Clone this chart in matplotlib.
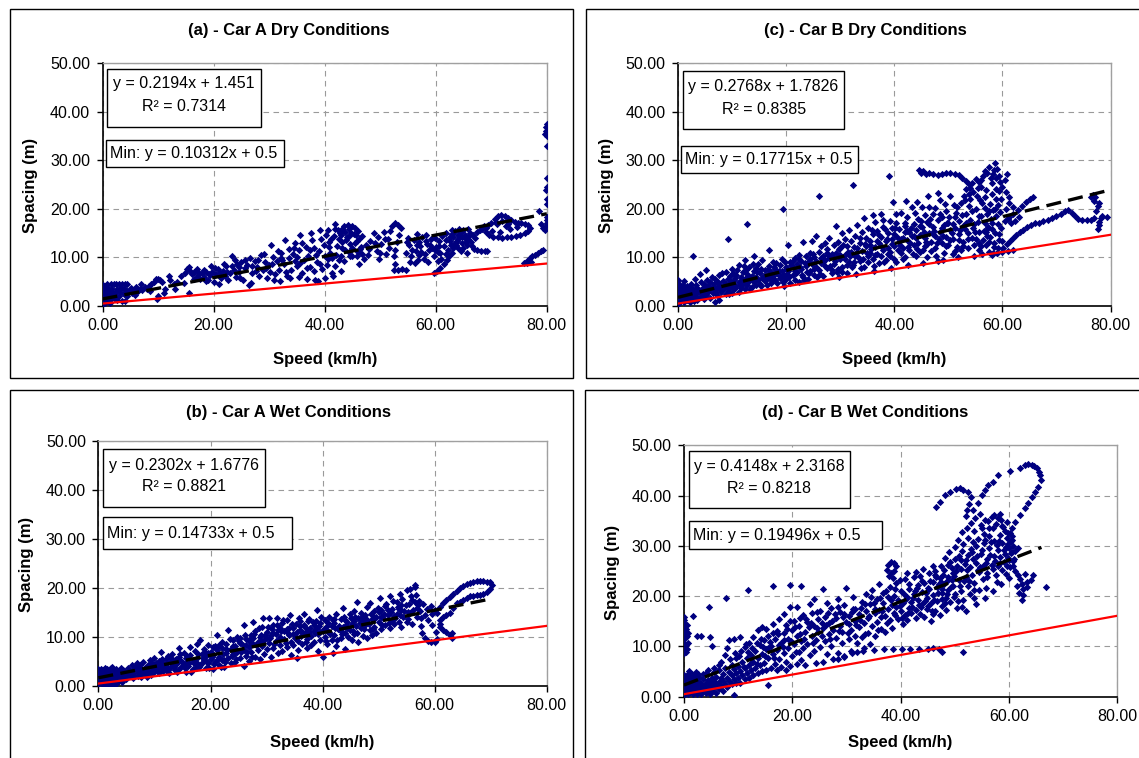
import matplotlib
matplotlib.use("Agg")
import matplotlib.pyplot as plt
from matplotlib.patches import Rectangle
from matplotlib.ticker import FormatStrFormatter

plt.rcParams['font.family'] = ['Liberation Sans', 'DejaVu Sans']

W, H = 1139, 758

# (speed km/h, spacing m) points per test
a_points = [
    (0, 0.4), (0, 0.9), (0, 1.4), (0, 1.9), (0, 2.4), (0, 2.9), (0, 3.4), (0, 3.9), (0, 4.4),
    (0.4, 0.7), (0.4, 1.6), (0.4, 2.5), (0.4, 3.3), (0.4, 4.1), (0.8, 1.1), (0.8, 2.0), (0.8, 2.8),
    (0.8, 3.6), (0.8, 4.6), (1.2, 0.9), (1.2, 1.8), (1.2, 2.6), (1.2, 3.3), (1.6, 1.4), (1.6, 2.3),
    (1.6, 3.0), (1.6, 4.6), (2.0, 4.6), (2.5, 4.6), (3.0, 4.6), (3.5, 4.6), (4.0, 4.6), (4.5, 4.5),
    (2.0, 1.6), (2.3, 2.6), (2.6, 3.4), (2.9, 2.0), (3.2, 2.9), (3.5, 1.1), (3.8, 2.4), (4.0, 1.0),
    (4.2, 3.3), (4.5, 2.1), (4.8, 3.0), (5.1, 3.8), (5.4, 2.6), (5.7, 3.3), (6.0, 3.9), (6.4, 3.0),
    (6.8, 3.6), (7.2, 3.3), (7.6, 3.9), (8.0, 3.5), (8.3, 4.1), (8.8, 4.5), (9.2, 5.0), (9.6, 5.5),
    (10.0, 5.6), (10.4, 5.3), (10.7, 5.0), (9.8, 1.5), (10.0, 2.1), (11.0, 2.6), (11.2, 3.5),
    (12.2, 5.4), (12.8, 4.6), (13.5, 5.0), (14.2, 6.1), (14.9, 6.8), (15.2, 7.6), (15.5, 8.0),
    (15.8, 7.3), (16.2, 6.6), (16.5, 7.0), (15.5, 2.6), (16.8, 5.8), (17.2, 6.4), (17.6, 5.5),
    (18.0, 6.8), (18.3, 6.0), (18.7, 7.1), (19.0, 5.4), (19.4, 6.3), (19.8, 7.0), (20.1, 5.0),
    (20.4, 6.5), (20.8, 7.6), (21.0, 4.6), (21.3, 5.8), (21.7, 7.2), (22.0, 6.1), (22.3, 8.3),
    (22.6, 5.4), (23.0, 6.8), (23.3, 10.2), (23.6, 7.5), (24.0, 6.0), (24.3, 8.6), (24.6, 7.0),
    (25.0, 9.0), (25.3, 5.3), (25.6, 7.8), (26.0, 8.4), (26.3, 4.3), (26.8, 4.7), (27.0, 6.9),
    (27.4, 9.3), (27.8, 8.0), (28.2, 6.2), (28.5, 10.5), (28.9, 7.4), (29.3, 9.0), (29.7, 5.8),
    (30.0, 8.4), (30.4, 12.6), (30.7, 10.0), (31.0, 6.5), (31.4, 9.2), (31.8, 7.4), (32.2, 11.0),
    (32.6, 8.6), (32.9, 13.6), (33.3, 6.2), (33.6, 9.8), (34.0, 7.5), (34.3, 10.8), (34.7, 13.0),
    (35.0, 8.3), (35.3, 11.6), (35.6, 14.6), (36.0, 6.8), (36.3, 9.5), (36.6, 12.2), (37.0, 10.4),
    (37.3, 8.1), (37.6, 15.1), (38.0, 12.0), (38.3, 5.3), (38.6, 9.0), (39.0, 11.4), (39.2, 15.6),
    (39.5, 7.6), (39.8, 12.6), (40.1, 10.2), (40.4, 8.4), (40.7, 13.2), (41.0, 11.0), (41.3, 6.8),
    (41.6, 14.5), (41.9, 16.8), (42.2, 12.4), (42.5, 9.5), (42.8, 15.0), (43.1, 13.2), (43.4, 16.4),
    (43.7, 11.6), (44.0, 14.2), (44.3, 15.8), (44.6, 12.8), (44.9, 10.4), (45.2, 14.8), (45.5, 16.0),
    (45.8, 13.4), (46.1, 8.6), (46.4, 11.8), (46.7, 14.4), (47.0, 9.6), (47.4, 12.6), (47.8, 10.6),
    (48.2, 13.4), (48.8, 15.0), (49.4, 11.4), (49.8, 9.6), (50.2, 12.8), (50.6, 15.2), (51.0, 10.8),
    (51.4, 13.8), (51.8, 15.4), (52.2, 16.4), (52.7, 17.0), (53.2, 16.6), (53.7, 16.0), (53.4, 14.6),
    (53.0, 13.2), (52.6, 11.6), (52.4, 10.2), (52.6, 8.6), (52.5, 7.5), (53.2, 7.4), (54.0, 7.6),
    (54.6, 7.5), (54.6, 11.0), (55.2, 12.6), (55.6, 10.2), (56.0, 13.6), (56.4, 11.4), (56.8, 9.4),
    (57.2, 12.4), (57.6, 14.2), (58.0, 10.8), (58.4, 12.8), (58.8, 11.6), (59.2, 13.8), (59.6, 10.4),
    (60.0, 12.2), (60.4, 9.2), (60.8, 11.0), (61.2, 14.4), (61.5, 12.4), (59.6, 6.9), (60.2, 7.3),
    (60.8, 7.8), (61.4, 8.6), (62.0, 9.4), (62.4, 10.4), (62.8, 12.6), (63.2, 14.2), (63.5, 15.4),
    (63.8, 13.4), (64.1, 12.0), (64.4, 14.6), (64.7, 13.0), (65.0, 15.6), (65.3, 14.0), (65.6, 12.6),
    (65.9, 13.8), (66.2, 15.0), (66.5, 12.4), (66.9, 11.8), (67.5, 11.6), (68.1, 11.4), (68.8, 11.3),
    (69.3, 11.4), (66.8, 14.6), (67.4, 15.2), (68.0, 15.6), (68.7, 16.4), (69.4, 16.6), (70.0, 17.2),
    (70.6, 18.0), (71.2, 18.6), (71.8, 18.7), (72.4, 18.5), (73.0, 18.2), (73.6, 17.8), (74.2, 17.4),
    (74.8, 17.2), (75.4, 17.0), (76.0, 16.9), (76.6, 16.6), (76.9, 16.0), (76.6, 15.4), (76.0, 15.0),
    (75.2, 14.6), (74.4, 14.4), (73.6, 14.3), (72.8, 14.2), (72.0, 14.1), (71.2, 14.2), (70.4, 14.3),
    (69.6, 14.6), (69.0, 15.2), (68.4, 15.9), (75.9, 8.9), (76.4, 9.3), (76.9, 9.8), (77.4, 10.2),
    (77.9, 10.6), (78.4, 11.0), (78.9, 11.4), (79.4, 11.6), (76.5, 8.9), (77.2, 9.1), (78.6, 19.6),
    (79.0, 16.8), (79.3, 16.0), (79.6, 15.6), (79.8, 16.4), (80.0, 17.2), (80.0, 18.4), (80.0, 21.0),
    (80.0, 22.0), (79.9, 24.0), (80.0, 24.6), (80.0, 26.4), (80.0, 33.0), (80.0, 35.0), (79.8, 36.0),
    (79.9, 36.8), (80.0, 37.5), (79.7, 35.5), (80.0, 17.8), (42.4, 15.6), (43.0, 14.6), (43.6, 15.2),
    (44.2, 16.6), (44.8, 15.0), (45.4, 13.0), (46.0, 15.4), (46.6, 12.2), (43.2, 12.0), (44.4, 11.2),
    (45.0, 12.0), (42.0, 10.6), (43.5, 9.2), (45.8, 10.2), (46.8, 10.8), (48.0, 11.8), (49.0, 13.0),
    (50.0, 11.0), (62.5, 13.4), (63.0, 15.6), (63.6, 12.6), (64.2, 15.8), (64.8, 14.2), (65.4, 13.2),
    (66.0, 14.4), (62.2, 11.6), (63.0, 11.0), (64.5, 11.4), (65.6, 11.0), (55.0, 14.0), (56.6, 14.8),
    (57.8, 9.6), (58.6, 9.0), (59.4, 12.0), (60.6, 13.4), (61.8, 15.0), (55.4, 9.0), (56.2, 8.8),
    (30.8, 5.4), (32.0, 5.2), (33.8, 5.8), (35.4, 6.0), (36.8, 5.6), (38.8, 5.2), (40.0, 5.8),
    (41.5, 6.2), (43.0, 7.2),
]
a_dense = [
    (0.2, 1.2), (0.6, 2.6), (1.0, 3.8), (1.4, 0.6), (1.8, 3.4), (2.2, 2.2), (2.7, 1.2), (3.3, 3.8),
    (3.9, 3.4), (5.8, 2.2), (7.0, 4.6), (8.6, 3.0), (12.0, 6.2), (13.0, 3.6), (14.6, 4.8),
    (17.0, 7.6), (18.6, 5.2), (19.6, 8.2), (21.8, 8.6), (23.8, 9.4), (24.8, 5.8), (26.6, 9.8),
    (27.6, 7.2), (29.0, 10.8), (30.2, 7.0), (31.6, 11.4), (32.4, 9.4), (33.0, 7.0), (34.4, 12.0),
    (35.0, 10.0), (36.0, 13.0), (37.4, 11.6), (37.8, 13.6), (38.4, 10.6), (39.4, 13.8), (40.2, 14.6),
    (40.8, 12.2), (41.4, 9.8), (49.6, 14.2), (50.8, 13.8), (51.6, 12.0), (54.8, 13.2), (57.0, 10.6),
    (58.2, 14.6), (59.8, 14.0), (60.4, 11.2), (61.0, 9.6), (61.8, 10.8), (62.6, 14.2), (64.0, 13.8),
    (65.0, 12.0), (66.4, 13.2), (67.0, 14.0), (69.0, 16.0), (70.2, 15.4), (71.0, 16.8), (71.6, 15.2),
    (72.6, 16.4), (73.4, 15.8), (74.6, 16.2), (70.8, 17.4), (72.0, 17.6), (73.0, 16.9),
    (40.6, 15.6), (41.2, 13.8), (41.8, 15.8), (42.6, 13.8), (43.2, 15.8), (43.8, 13.6), (44.4, 14.4),
    (45.0, 16.4), (45.6, 14.6), (46.2, 13.8), (46.0, 11.2), (44.6, 10.2), (43.0, 10.4), (41.8, 8.2),
    (40.6, 9.6), (39.2, 8.6), (38.0, 7.2), (36.8, 7.8), (35.6, 8.8), (34.6, 9.2), (33.6, 11.8),
    (32.2, 9.8), (30.6, 8.6), (29.4, 7.8), (28.0, 9.4), (27.0, 8.2), (25.6, 9.4), (24.6, 8.0),
    (23.4, 8.2), (22.4, 7.0), (21.2, 6.8), (20.2, 7.8), (19.2, 6.6), (18.2, 7.4), (17.4, 6.8),
    (16.4, 5.6), (64.6, 15.2), (63.4, 13.0), (62.9, 14.8), (64.0, 14.6), (65.2, 14.6), (65.8, 15.8),
    (63.2, 12.0), (61.9, 13.6), (60.6, 12.4), (59.9, 11.6), (59.0, 12.6), (58.2, 13.4), (57.4, 11.2),
    (56.6, 12.6), (55.8, 11.6), (57.0, 13.2),
]

b_points = [
    (0, 0.4), (0, 1.0), (0, 1.6), (0, 2.2), (0, 2.8), (0, 3.4), (0.4, 0.7), (0.4, 1.4), (0.4, 2.0),
    (0.4, 2.7), (0.4, 3.4), (0.8, 0.4), (0.8, 1.1), (0.8, 1.8), (0.8, 2.5), (0.8, 3.2), (1.2, 0.9),
    (1.2, 1.6), (1.2, 2.3), (1.2, 3.0), (1.2, 3.7), (1.6, 0.3), (1.6, 1.3), (1.6, 2.0), (1.6, 2.8),
    (1.6, 3.5), (2.0, 0.8), (2.0, 1.7), (2.0, 2.5), (2.0, 3.3), (2.4, 0.2), (2.4, 1.2), (2.4, 2.1),
    (2.4, 3.0), (2.4, 3.8), (2.8, 0.9), (2.8, 1.8), (2.8, 2.7), (3.2, 0.5), (3.2, 1.5), (3.2, 2.4),
    (3.2, 3.4), (3.6, 1.1), (3.6, 2.0), (3.6, 2.9), (4.0, 1.6), (4.0, 2.6), (4.0, 3.6), (4.4, 2.2),
    (4.4, 3.2), (4.8, 1.8), (4.8, 2.8), (5.2, 2.4), (5.2, 3.6), (5.6, 2.0), (5.6, 3.0), (6.0, 2.6),
    (6.0, 4.2), (6.4, 2.2), (6.4, 3.4), (6.8, 3.0), (6.8, 4.6), (7.2, 2.6), (7.2, 3.8), (7.6, 1.9),
    (7.6, 3.2), (8.0, 2.8), (8.0, 5.0), (8.4, 3.6), (8.4, 2.4), (8.8, 4.2), (8.8, 3.0), (9.2, 2.6),
    (9.2, 5.4), (9.6, 3.6), (9.6, 4.6), (10.0, 2.8), (10.0, 5.8), (10.4, 3.4), (10.4, 4.4),
    (10.8, 2.6), (10.8, 5.2), (11.2, 3.8), (11.2, 7.0), (11.6, 4.6), (11.6, 3.0), (12.0, 5.6),
    (12.0, 4.0), (12.4, 2.8), (12.4, 6.2), (12.8, 3.6), (12.8, 5.0), (13.2, 4.4), (13.2, 6.6),
    (13.6, 3.2), (13.6, 5.4), (14.0, 4.8), (14.0, 2.8), (14.3, 7.7), (14.4, 6.0), (14.8, 3.8),
    (14.8, 5.2), (15.2, 4.4), (15.2, 6.8), (15.6, 2.8), (15.6, 5.8), (16.0, 4.0), (16.3, 8.0),
    (16.4, 6.4), (16.8, 3.4), (16.8, 5.0), (17.2, 7.2), (17.2, 4.4), (17.6, 8.6), (17.6, 5.8),
    (18.0, 3.8), (18.1, 9.4), (18.4, 6.6), (18.4, 4.8), (18.8, 7.6), (18.8, 5.4), (19.2, 3.6),
    (19.2, 6.2), (19.6, 8.4), (19.6, 4.6), (20.0, 7.0), (20.0, 5.6), (20.4, 3.4), (20.4, 6.4),
    (20.8, 8.2), (20.8, 5.0), (21.1, 10.4), (21.2, 7.4), (21.6, 4.2), (21.6, 6.0), (22.0, 9.0),
    (22.0, 7.8), (22.4, 5.4), (22.4, 3.8), (22.8, 6.8), (22.8, 8.6), (23.2, 11.4), (23.2, 5.8),
    (23.6, 7.6), (23.6, 4.6), (24.0, 9.4), (24.0, 6.6), (24.4, 5.0), (24.4, 8.2), (24.8, 7.0),
    (24.8, 10.0), (25.2, 5.8), (25.2, 8.8), (25.9, 12.5), (25.9, 4.0), (26.0, 7.4), (26.4, 9.6),
    (26.4, 6.2), (26.8, 8.0), (26.8, 5.2), (27.2, 10.4), (27.2, 7.0), (27.6, 13.1), (27.6, 8.6),
    (28.0, 6.0), (28.0, 11.2), (28.4, 9.0), (28.4, 7.4), (28.8, 10.0), (28.8, 5.6), (29.2, 8.2),
    (29.2, 12.0), (29.4, 13.8), (29.6, 6.6), (29.6, 9.4), (30.0, 11.0), (30.0, 7.6), (30.4, 13.8),
    (30.4, 8.8), (30.8, 6.0), (30.8, 10.4), (31.2, 12.4), (31.2, 7.8), (31.6, 9.2), (31.8, 13.8),
    (32.0, 11.4), (32.0, 6.8), (32.4, 8.4), (32.4, 10.0), (32.8, 12.8), (32.8, 7.2), (33.2, 9.6),
    (33.2, 11.2), (33.6, 8.0), (33.6, 13.4), (34.0, 10.4), (34.2, 14.5), (34.4, 9.0), (34.4, 6.4),
    (34.8, 11.8), (34.8, 8.4), (35.2, 10.0), (35.2, 12.6), (35.4, 5.7), (35.6, 9.2), (35.6, 7.4),
    (36.0, 11.4), (36.0, 13.2), (36.4, 8.6), (36.6, 14.8), (36.8, 10.8), (36.8, 12.0), (37.2, 9.6),
    (37.2, 7.8), (37.6, 11.0), (37.6, 13.6), (38.0, 10.2), (38.0, 8.4), (38.4, 12.4), (38.4, 9.0),
    (38.8, 11.6), (39.0, 15.5), (39.2, 10.6), (39.2, 7.2), (39.6, 12.8), (39.6, 9.4), (40.0, 11.2),
    (40.1, 6.0), (40.4, 13.4), (40.4, 10.0), (40.8, 8.6), (40.8, 12.2), (41.2, 11.0), (41.2, 14.2),
    (41.6, 9.4), (41.9, 6.7), (42.0, 12.8), (42.0, 10.4), (42.4, 14.8), (42.4, 8.2), (42.8, 11.6),
    (43.2, 13.6), (43.2, 9.8), (43.6, 12.0), (43.6, 16.0), (44.0, 10.8), (44.0, 7.6), (44.4, 13.0),
    (44.8, 11.4), (44.8, 14.8), (45.2, 9.4), (45.2, 12.6), (45.6, 15.4), (45.6, 10.6), (46.0, 12.2),
    (46.1, 17.2), (46.4, 13.8), (46.4, 9.0), (46.8, 11.8), (46.8, 15.0), (47.2, 13.2), (47.2, 10.2),
    (47.6, 14.6), (47.6, 12.4), (48.0, 9.8), (48.0, 16.2), (48.4, 11.4), (48.5, 16.9), (48.8, 13.6),
    (48.8, 10.4), (49.2, 15.4), (49.2, 12.0), (49.6, 14.2), (49.6, 10.8), (50.0, 13.0), (50.2, 17.9),
    (50.4, 11.6), (50.4, 15.6), (50.8, 13.8), (51.2, 12.4), (51.2, 16.4), (51.6, 14.6), (52.0, 18.4),
    (52.0, 11.8), (52.4, 13.4), (52.4, 15.8), (52.8, 12.6), (53.2, 14.8), (53.2, 17.2), (53.6, 13.0),
    (53.8, 18.9), (54.0, 15.6), (54.0, 12.0), (54.4, 14.0), (54.8, 16.6), (55.0, 19.6), (55.2, 13.6),
    (55.6, 15.0), (55.6, 19.8), (56.0, 17.6), (56.0, 12.6), (56.4, 20.2), (56.5, 20.6), (56.8, 16.0),
    (56.8, 14.2), (57.2, 17.4), (57.4, 15.4), (57.6, 13.8), (57.6, 12.2), (57.8, 10.8), (58.2, 9.8),
    (58.8, 9.2), (59.4, 8.9), (60.0, 9.0), (60.4, 9.6), (60.2, 11.0), (59.6, 12.4), (58.8, 13.4),
    (58.2, 14.6), (58.6, 15.8), (59.4, 16.4), (57.0, 16.6), (58.0, 16.8), (60.9, 16.2), (61.5, 16.9),
    (62.1, 17.6), (62.7, 18.2), (63.3, 18.9), (63.9, 19.5), (64.5, 20.0), (65.1, 20.4), (65.7, 20.8),
    (66.3, 21.1), (66.9, 21.3), (67.5, 21.4), (68.1, 21.4), (68.7, 21.4), (69.3, 21.3), (69.9, 21.2),
    (70.2, 20.6), (69.8, 19.8), (69.3, 19.3), (68.7, 18.9), (68.1, 18.6), (67.5, 18.5), (66.9, 18.4),
    (66.3, 18.3), (65.7, 18.0), (65.1, 17.6), (64.5, 17.2), (63.9, 16.9), (63.3, 15.9), (62.7, 14.9),
    (62.1, 14.6), (61.5, 14.2), (60.9, 13.5), (60.9, 12.7), (60.9, 12.1), (61.5, 11.4), (62.1, 11.0),
    (62.7, 10.4), (63.0, 10.8), (63.0, 9.8), (59.6, 14.8), (60.0, 15.6), (60.4, 15.0),
]
b_dense = [
    (0.2, 2.5), (0.6, 3.0), (1.0, 0.5), (1.4, 2.6), (1.8, 1.0), (2.2, 3.6), (2.6, 1.5), (3.0, 2.2),
    (3.4, 0.8), (3.8, 3.3), (4.2, 0.9), (4.6, 2.6), (5.0, 1.4), (5.4, 3.0), (5.8, 2.6), (6.2, 1.6),
    (6.6, 3.8), (7.0, 2.0), (7.4, 4.2), (7.8, 2.8), (8.2, 3.4), (8.6, 1.8), (9.0, 4.0), (9.4, 2.2),
    (9.8, 3.2), (10.2, 4.8), (10.6, 3.0), (11.0, 4.0), (11.4, 5.6), (11.8, 3.4), (12.2, 4.8),
    (12.6, 2.6), (13.0, 5.8), (13.4, 3.8), (13.8, 4.4), (14.2, 3.2), (14.6, 6.6), (15.0, 5.0),
    (15.4, 3.6), (15.8, 6.2), (16.2, 4.8), (16.6, 2.8), (17.0, 5.4), (17.4, 3.6), (17.8, 6.6),
    (18.2, 4.2), (18.6, 5.8), (19.0, 7.0), (19.4, 5.0), (19.8, 3.6), (20.2, 6.0), (20.6, 4.4),
    (21.0, 7.8), (21.4, 5.6), (21.8, 3.8), (22.2, 6.6), (22.6, 5.0), (23.0, 7.4), (23.4, 9.6),
    (23.8, 6.2), (24.2, 7.8), (24.6, 5.6), (25.0, 9.2), (25.4, 7.0), (25.8, 8.4), (26.2, 10.4),
    (26.6, 7.0), (27.0, 9.0), (27.4, 6.0), (27.8, 10.6), (28.2, 8.4), (28.6, 11.8), (29.0, 9.2),
    (29.8, 10.4), (30.2, 12.0), (30.6, 9.8), (31.0, 11.6), (31.4, 8.6), (31.9, 12.4), (32.2, 9.6),
    (32.6, 11.2), (33.0, 13.4), (33.4, 8.8), (33.8, 10.8), (34.6, 12.6), (35.0, 9.8), (35.4, 11.0),
    (35.8, 13.8), (36.2, 10.2), (36.6, 12.4), (37.0, 9.0), (37.4, 13.2), (37.8, 11.8), (38.2, 13.0),
    (38.6, 10.8), (39.4, 12.2), (39.8, 14.0), (40.2, 11.6), (40.6, 9.2), (41.0, 12.8), (41.4, 10.6),
    (41.8, 13.4), (42.2, 11.8), (42.6, 9.4), (43.0, 12.2), (43.4, 10.6), (43.8, 14.2), (44.2, 12.4),
    (44.6, 10.0), (45.0, 13.8), (45.4, 11.2), (45.8, 14.0), (46.2, 10.8), (46.6, 12.8), (47.0, 14.2),
    (47.4, 11.6), (47.8, 13.6), (48.2, 12.6), (48.6, 14.8), (49.0, 11.6), (49.4, 13.8), (49.8, 16.0),
    (50.6, 12.4), (51.0, 14.8), (51.4, 16.8), (51.8, 12.8), (52.2, 15.2), (52.6, 17.4), (53.0, 13.8),
    (53.4, 16.2), (53.8, 14.6), (54.2, 17.8), (54.6, 15.4), (55.0, 13.0), (55.4, 16.8), (55.8, 18.4),
    (56.2, 15.6), (56.6, 18.6), (20.4, 8.0), (21.6, 8.4), (22.8, 7.6), (24.0, 8.2), (25.2, 9.8),
    (26.4, 8.4), (27.6, 9.8), (28.8, 8.8), (30.0, 9.8), (31.2, 10.8), (32.4, 11.8), (33.6, 11.6),
    (34.8, 10.6), (36.0, 12.2), (37.2, 11.2), (38.4, 11.2), (39.6, 11.0), (40.8, 11.2), (42.0, 13.6),
    (43.2, 11.2), (44.4, 11.8), (45.6, 13.2), (46.8, 13.6), (48.0, 13.4), (49.2, 14.0), (50.4, 14.2),
    (51.6, 15.6), (52.8, 14.4), (54.0, 16.6), (55.2, 15.2), (56.4, 17.2), (53.6, 15.8), (50.0, 15.2),
    (47.0, 12.6), (44.0, 13.4), (41.6, 12.2), (38.8, 13.2), (36.4, 11.0), (34.0, 11.8), (31.6, 10.6),
    (29.0, 10.4), (26.8, 9.4), (24.4, 6.8), (22.0, 5.4), (19.6, 6.8), (17.6, 4.8), (15.6, 4.6),
    (13.8, 5.6), (12.0, 3.2), (10.4, 3.8),
]

c_points = [
    (0, 0.5), (0, 1.2), (0, 1.9), (0, 2.6), (0, 3.3), (0, 4.0), (0, 4.8), (0, 5.4), (0.4, 0.9),
    (0.4, 1.7), (0.4, 2.5), (0.4, 3.3), (0.4, 4.2), (0.8, 1.3), (0.8, 2.1), (0.8, 3.0), (0.8, 3.8),
    (1.2, 0.8), (1.2, 1.7), (1.2, 2.6), (1.2, 3.5), (1.2, 5.2), (1.6, 1.2), (1.6, 2.2), (1.6, 3.1),
    (1.6, 4.2), (2.0, 1.6), (2.0, 2.6), (2.0, 3.6), (2.4, 1.0), (2.4, 2.1), (2.4, 3.0), (2.4, 4.6),
    (2.8, 1.5), (2.8, 2.6), (2.8, 10.4), (3.2, 2.0), (3.2, 3.2), (3.2, 5.6), (3.6, 1.2), (3.6, 2.6),
    (3.6, 3.8), (4.0, 1.8), (4.0, 3.0), (4.0, 6.6), (4.4, 2.4), (4.4, 3.6), (4.8, 1.4), (4.8, 2.9),
    (4.8, 4.6), (5.2, 2.2), (5.2, 3.4), (5.2, 7.4), (5.6, 2.8), (5.6, 4.2), (6.0, 1.6), (6.0, 3.4),
    (6.0, 5.0), (6.4, 2.6), (6.4, 4.2), (6.8, 0.9), (6.8, 3.2), (6.8, 5.6), (7.2, 2.2), (7.2, 3.8),
    (7.6, 1.3), (7.6, 4.6), (7.6, 6.4), (8.0, 2.8), (8.0, 4.0), (8.4, 3.4), (8.4, 5.2), (8.8, 2.4),
    (8.8, 4.6), (8.8, 7.0), (9.2, 3.0), (9.2, 5.6), (9.2, 13.8), (9.6, 3.8), (9.6, 6.2), (10.0, 2.6),
    (10.0, 4.6), (10.0, 7.6), (10.4, 3.4), (10.4, 5.4), (10.8, 4.2), (10.8, 6.4), (11.2, 2.8),
    (11.2, 5.0), (11.2, 8.4), (11.6, 3.8), (11.6, 6.0), (12.0, 4.6), (12.0, 7.0), (12.4, 3.6),
    (12.4, 5.6), (12.4, 9.4), (12.7, 16.9), (12.8, 4.4), (12.8, 6.6), (13.2, 5.2), (13.2, 8.0),
    (13.6, 4.0), (13.6, 6.2), (14.0, 5.0), (14.0, 7.2), (14.0, 10.4), (14.4, 4.4), (14.4, 6.0),
    (14.8, 5.4), (14.8, 8.6), (15.2, 4.6), (15.2, 6.8), (15.6, 5.8), (15.6, 9.4), (16.0, 5.2),
    (16.0, 7.4), (16.4, 4.4), (16.4, 6.4), (16.8, 5.8), (16.8, 8.2), (16.8, 11.6), (17.2, 4.8),
    (17.2, 7.0), (17.6, 6.2), (17.6, 9.0), (18.0, 5.4), (18.0, 7.6), (18.4, 4.8), (18.4, 6.8),
    (18.8, 8.4), (18.8, 5.8), (19.2, 7.2), (19.2, 9.6), (19.5, 19.9), (19.6, 4.2), (19.6, 6.4),
    (20.0, 8.0), (20.0, 5.6), (20.4, 7.2), (20.4, 12.6), (20.8, 4.8), (20.8, 9.0), (21.2, 6.4),
    (21.2, 8.0), (21.6, 5.4), (21.6, 9.8), (22.0, 7.0), (22.0, 8.6), (22.4, 5.0), (22.4, 10.6),
    (22.8, 7.6), (22.8, 9.2), (23.2, 6.0), (23.2, 13.2), (23.6, 8.2), (23.6, 10.2), (24.0, 5.6),
    (24.0, 9.0), (24.4, 7.2), (24.4, 11.0), (24.8, 8.6), (24.8, 13.4), (25.2, 6.4), (25.2, 10.0),
    (25.6, 9.2), (25.6, 14.4), (26.0, 7.4), (26.0, 11.2), (26.1, 22.7), (26.4, 8.8), (26.4, 12.4),
    (26.8, 6.2), (26.8, 10.4), (27.2, 9.4), (27.2, 13.0), (27.6, 7.8), (27.6, 11.8), (28.0, 9.8),
    (28.0, 14.0), (28.4, 6.8), (28.4, 10.8), (28.8, 12.6), (28.8, 8.6), (29.2, 11.0), (29.2, 16.4),
    (29.6, 7.6), (29.6, 13.2), (30.0, 9.6), (30.0, 12.0), (30.4, 15.0), (30.4, 8.0), (30.8, 10.6),
    (30.8, 13.8), (31.2, 6.8), (31.2, 12.4), (31.6, 9.0), (31.6, 15.6), (32.0, 11.2), (32.0, 13.4),
    (32.4, 24.9), (32.4, 8.4), (32.8, 10.4), (32.8, 14.4), (33.2, 12.0), (33.2, 16.6), (33.6, 9.2),
    (33.6, 13.0), (34.0, 11.4), (34.0, 15.2), (34.4, 8.0), (34.4, 18.2), (34.8, 12.4), (34.8, 14.0),
    (35.2, 10.2), (35.2, 16.0), (35.6, 13.4), (35.6, 11.0), (36.0, 14.8), (36.0, 9.6), (36.4, 12.2),
    (36.4, 17.4), (36.8, 15.4), (36.8, 10.8), (37.2, 13.0), (37.2, 8.8), (37.6, 14.2), (37.6, 19.0),
    (38.0, 11.6), (38.0, 16.2), (38.4, 13.4), (38.4, 9.4), (38.8, 15.0), (38.8, 12.0), (39.1, 26.8),
    (39.2, 17.6), (39.2, 10.4), (39.6, 13.8), (39.6, 16.0), (40.0, 12.4), (40.0, 14.8), (40.4, 9.0),
    (40.4, 17.0), (40.8, 13.2), (40.8, 15.8), (41.2, 11.0), (41.2, 19.2), (41.6, 14.0), (41.6, 12.0),
    (42.0, 16.4), (42.0, 10.0), (42.4, 13.6), (42.4, 18.4), (42.8, 15.2), (42.8, 11.6), (43.2, 14.4),
    (43.2, 20.4), (43.6, 12.6), (43.6, 16.8), (44.0, 10.4), (44.0, 15.6), (44.4, 13.0), (44.4, 18.0),
    (44.8, 14.6), (44.8, 11.2), (45.2, 16.2), (45.2, 20.4), (45.6, 12.4), (45.6, 14.0), (46.0, 17.4),
    (46.0, 10.0), (46.4, 15.0), (46.4, 20.4), (46.8, 13.2), (46.8, 11.4), (47.2, 16.2), (47.2, 19.0),
    (47.6, 14.4), (47.6, 12.0), (48.0, 17.8), (48.0, 9.2), (48.4, 15.2), (48.4, 21.8), (48.8, 13.0),
    (48.8, 18.4), (49.2, 16.6), (49.2, 11.0), (49.6, 14.2), (49.6, 19.6), (50.0, 12.6), (50.0, 17.2),
    (50.4, 15.6), (50.4, 22.6), (50.8, 13.8), (50.8, 10.8), (51.2, 18.4), (51.2, 16.0), (51.6, 12.2),
    (51.6, 20.4), (52.0, 14.8), (52.0, 17.6), (52.4, 11.6), (52.4, 21.2), (52.8, 16.4), (52.8, 13.2),
    (53.2, 19.0), (53.2, 24.2), (53.6, 15.0), (53.6, 12.0), (54.0, 17.8), (54.0, 22.0), (54.4, 14.0),
    (54.4, 25.4), (54.8, 16.8), (54.8, 12.6), (55.2, 20.0), (55.2, 26.2), (55.6, 15.2), (55.6, 11.6),
    (56.0, 18.6), (56.0, 24.6), (56.4, 13.6), (56.4, 26.8), (56.8, 17.0), (56.8, 22.4), (57.2, 14.4),
    (57.2, 27.4), (57.6, 19.6), (57.6, 11.2), (58.0, 25.4), (58.0, 15.8), (58.4, 28.0), (58.4, 13.0),
    (58.6, 29.5), (58.8, 26.4), (58.8, 22.0), (59.2, 20.8), (59.2, 12.0), (44.6, 28.0), (45.0, 27.4),
    (45.4, 27.8), (45.8, 27.2), (46.4, 27.4), (47.2, 27.2), (48.0, 27.0), (48.8, 27.2), (49.6, 27.4),
    (50.4, 27.4), (51.2, 27.2), (52.0, 27.0), (52.6, 26.4), (53.2, 25.8), (53.8, 25.2), (58.0, 10.6),
    (59.0, 11.0), (60.0, 11.2), (61.0, 11.4), (62.0, 11.6), (60.2, 12.0), (60.8, 12.8), (61.4, 13.4),
    (62.0, 14.0), (62.6, 14.6), (63.2, 15.2), (63.9, 15.6), (64.6, 16.2), (65.3, 16.6), (66.0, 17.0),
    (66.8, 17.2), (67.6, 17.5), (68.4, 17.8), (69.2, 18.1), (70.0, 18.5), (70.8, 19.0), (71.5, 19.5),
    (72.2, 19.8), (72.8, 19.2), (73.4, 18.6), (74.0, 18.0), (74.8, 17.7), (75.6, 17.7), (76.4, 17.8),
    (77.0, 18.2), (77.4, 19.6), (77.6, 20.6), (77.8, 21.2), (77.2, 22.4), (76.8, 22.8), (76.4, 22.4),
    (77.0, 21.6), (77.8, 16.6), (77.7, 15.8), (77.9, 17.4), (78.2, 18.2), (78.5, 18.6), (79.3, 18.4),
    (60.4, 17.6), (61.2, 18.4), (62.0, 19.0), (62.8, 19.8), (63.6, 20.6), (64.4, 21.4), (65.2, 22.0),
    (65.7, 22.4), (63.0, 18.4), (62.4, 17.6), (61.6, 17.0), (61.0, 18.0), (62.0, 20.4), (61.2, 21.2),
    (60.6, 20.0), (59.8, 22.0), (59.4, 23.6), (60.0, 24.6), (60.6, 23.4), (61.2, 22.4), (60.8, 27.2),
    (60.4, 26.0), (59.6, 25.6), (56.2, 10.8), (57.0, 12.6), (57.8, 14.2), (58.6, 15.0), (59.4, 13.6),
    (58.2, 11.0), (59.0, 10.9), (55.6, 13.0), (56.6, 15.4), (57.4, 16.2), (29.8, 6.0), (33.0, 6.6),
    (36.2, 7.2), (39.4, 7.9), (42.6, 8.4), (45.4, 8.8), (49.0, 9.4), (51.8, 10.0), (54.8, 10.4),
]
c_dense = [
    (0.2, 3.0), (1.0, 4.4), (1.4, 2.0), (2.2, 0.8), (2.6, 3.8), (3.0, 1.0), (3.4, 4.4), (3.8, 3.2),
    (4.2, 5.0), (4.6, 3.8), (5.0, 1.9), (5.4, 5.4), (5.8, 3.6), (6.2, 6.0), (6.6, 4.6), (7.0, 2.8),
    (7.4, 5.0), (7.8, 3.4), (8.2, 6.8), (8.6, 3.8), (9.0, 4.2), (9.4, 2.4), (9.8, 5.0), (10.2, 6.8),
    (10.6, 3.8), (11.0, 7.4), (11.4, 4.4), (11.8, 5.4), (12.2, 8.2), (12.6, 5.0), (13.0, 6.2),
    (13.4, 3.4), (13.8, 8.6), (14.2, 5.6), (14.6, 7.0), (15.3, 4.1), (15.9, 6.1), (16.6, 7.7),
    (17.4, 5.3), (18.1, 8.8), (18.7, 6.3), (19.4, 4.9), (19.9, 7.6), (20.6, 5.9), (21.3, 9.3),
    (21.9, 6.7), (22.6, 8.1), (23.3, 5.3), (23.8, 7.1), (24.5, 9.7), (25.1, 7.7), (25.8, 6.0),
    (26.5, 9.9), (27.1, 8.3), (27.8, 10.6), (28.5, 7.5), (29.0, 9.2), (29.7, 11.7), (30.3, 7.0),
    (30.9, 9.6), (31.5, 11.1), (32.1, 8.0), (32.6, 12.2), (33.3, 10.0), (33.9, 7.8), (34.5, 12.8),
    (35.1, 9.0), (35.7, 11.8), (36.3, 8.3), (36.9, 13.4), (37.5, 10.4), (38.1, 9.0), (38.7, 13.8),
    (39.3, 11.2), (39.9, 9.6), (40.5, 14.2), (41.1, 12.6), (41.7, 9.6), (42.3, 15.4), (42.9, 13.0),
    (43.5, 10.8), (44.1, 14.0), (44.7, 16.4), (45.3, 11.6), (45.9, 13.2), (46.5, 16.8), (47.1, 14.8),
    (47.7, 10.4), (48.3, 13.8), (48.9, 16.0), (49.5, 12.4), (50.1, 18.4), (50.7, 15.0), (51.3, 11.4),
    (51.9, 13.6), (52.5, 18.8), (53.1, 15.8), (53.7, 13.8), (54.3, 19.6), (54.9, 15.2), (55.5, 17.4),
    (56.1, 12.4), (56.7, 20.2), (57.3, 16.0), (57.9, 18.0), (58.5, 12.2), (59.1, 16.8), (58.3, 19.8),
    (55.9, 21.8), (54.6, 23.4), (53.0, 21.8), (57.0, 24.0), (58.0, 23.0), (56.0, 26.0), (57.5, 28.6),
    (58.3, 27.2), (59.0, 28.2), (55.4, 24.4), (53.9, 23.0), (20.2, 6.6), (20.9, 8.4), (21.6, 7.2),
    (22.3, 9.6), (22.9, 6.4), (23.5, 8.8), (24.2, 6.8), (24.9, 10.8), (25.5, 8.0), (26.2, 6.6),
    (26.9, 9.0), (27.5, 11.0), (28.1, 8.2), (28.7, 10.0), (29.4, 7.0), (29.9, 10.6), (30.6, 12.6),
    (31.3, 8.4), (31.9, 10.2), (32.5, 9.0), (33.1, 11.2), (33.7, 14.0), (34.3, 9.6), (34.9, 11.0),
    (35.5, 12.6), (35.9, 15.6), (36.5, 10.6), (37.1, 14.6), (37.7, 12.2), (38.3, 15.8), (38.9, 10.8),
    (39.5, 12.8), (40.1, 16.0), (40.7, 11.6), (41.3, 13.8), (41.9, 17.2), (42.5, 12.2), (43.1, 16.0),
    (43.7, 14.4), (44.3, 11.8), (44.9, 17.6), (45.5, 15.2), (46.1, 12.8), (46.7, 18.0), (47.3, 15.4),
    (47.9, 13.0), (48.5, 19.0), (49.1, 14.4), (49.7, 17.0), (50.3, 13.6), (50.9, 16.8), (51.5, 19.2),
    (52.1, 15.6), (52.7, 12.4), (53.3, 17.2), (53.9, 20.6), (54.5, 16.0), (55.1, 13.8), (55.7, 18.6),
    (56.3, 21.2), (56.9, 15.2), (57.5, 13.2), (58.1, 17.0), (58.7, 20.0), (59.3, 14.8), (58.9, 18.6),
    (57.1, 19.0), (55.3, 22.6), (52.9, 22.6), (51.1, 20.8), (49.3, 21.0), (47.5, 20.2), (45.7, 18.8),
    (43.9, 19.2), (41.9, 15.2), (40.3, 19.0), (39.7, 21.4), (37.9, 17.8), (36.1, 18.8), (42.1, 21.6),
    (44.3, 21.4), (46.3, 22.6), (48.1, 23.2), (57.9, 26.4), (56.7, 27.8), (55.7, 25.6), (54.1, 24.4),
    (57.7, 21.0), (59.5, 19.4), (59.7, 16.0), (59.9, 13.4), (58.8, 24.2), (59.3, 26.8), (10.6, 5.8),
    (11.6, 4.8), (12.6, 7.4), (13.6, 5.6), (14.4, 7.8), (15.4, 7.6), (16.2, 5.6), (17.0, 6.6),
    (17.8, 8.0), (18.6, 7.2), (19.0, 6.0), (19.8, 9.0),
]

d_points = [
    (0, 0.4), (0, 1.2), (0, 2.0), (0, 2.8), (0, 3.6), (0, 4.4), (0, 8.6), (0, 9.2), (0, 9.8),
    (0, 10.6), (0, 11.4), (0, 12.2), (0, 13.0), (0, 13.8), (0, 14.6), (0, 15.2), (0, 15.8),
    (0.3, 8.8), (0.3, 10.2), (0.3, 11.8), (0.3, 13.4), (0.5, 9.4), (0.5, 12.0), (0.5, 14.2),
    (0.8, 10.6), (0.8, 12.6), (0.4, 0.8), (0.4, 1.6), (0.4, 2.4), (0.4, 3.2), (0.4, 4.0), (0.8, 0.5),
    (0.8, 1.3), (0.8, 2.1), (0.8, 2.9), (0.8, 3.7), (0.8, 4.6), (1.2, 0.9), (1.2, 1.7), (1.2, 2.5),
    (1.2, 3.3), (1.2, 4.2), (1.6, 0.6), (1.6, 1.4), (1.6, 2.2), (1.6, 3.0), (1.6, 3.8), (1.7, 16.1),
    (2.0, 1.0), (2.0, 1.8), (2.0, 2.6), (2.0, 3.4), (2.0, 4.4), (2.4, 0.6), (2.4, 1.4), (2.4, 2.2),
    (2.4, 3.2), (2.4, 12.0), (2.8, 1.0), (2.8, 2.0), (2.8, 3.0), (2.8, 4.0), (3.2, 0.6), (3.2, 1.6),
    (3.2, 2.6), (3.2, 12.0), (3.6, 1.2), (3.6, 2.2), (3.6, 3.6), (4.0, 0.8), (4.0, 1.8), (4.0, 2.8),
    (4.0, 4.8), (4.4, 1.4), (4.4, 2.4), (4.4, 3.4), (4.6, 17.8), (4.8, 0.6), (4.8, 2.0), (4.8, 3.0),
    (4.8, 11.8), (5.2, 1.2), (5.2, 2.6), (5.2, 3.8), (5.2, 10.0), (5.6, 1.8), (5.6, 3.2), (5.6, 5.0),
    (6.0, 0.8), (6.0, 2.4), (6.0, 4.0), (6.4, 1.6), (6.4, 3.0), (6.4, 5.4), (6.8, 2.2), (6.8, 3.8),
    (6.8, 7.0), (7.2, 1.2), (7.2, 3.2), (7.2, 4.6), (7.6, 2.6), (7.6, 5.8), (7.8, 19.7), (8.0, 2.0),
    (8.0, 3.8), (8.0, 9.6), (8.4, 3.2), (8.4, 5.0), (8.4, 11.2), (8.8, 2.6), (8.8, 4.4), (8.8, 6.4),
    (9.2, 0.4), (9.2, 3.6), (9.2, 5.6), (9.2, 11.4), (9.6, 2.8), (9.6, 4.8), (9.6, 7.6), (10.0, 3.8),
    (10.0, 6.2), (10.4, 2.8), (10.4, 5.2), (10.4, 11.8), (10.8, 4.4), (10.8, 7.0), (11.2, 3.6),
    (11.2, 5.8), (11.2, 9.8), (11.6, 4.8), (11.6, 7.6), (11.8, 21.2), (12.0, 3.8), (12.0, 6.4),
    (12.0, 10.6), (12.4, 5.4), (12.4, 8.2), (12.8, 4.4), (12.8, 7.0), (12.8, 11.8), (13.2, 5.8),
    (13.2, 9.0), (13.6, 4.8), (13.6, 7.6), (13.6, 13.2), (14.0, 6.4), (14.0, 10.2), (14.4, 5.2),
    (14.4, 8.4), (14.4, 13.8), (14.8, 6.8), (14.8, 11.2), (15.2, 5.4), (15.2, 9.4), (15.2, 13.4),
    (15.6, 2.4), (15.6, 7.6), (15.6, 12.0), (16.0, 5.8), (16.0, 10.0), (16.4, 22.0), (16.4, 8.4),
    (16.4, 14.4), (16.8, 6.6), (16.8, 11.4), (17.2, 5.4), (17.2, 9.2), (17.2, 13.0), (17.6, 7.4),
    (17.6, 15.4), (18.0, 6.0), (18.0, 10.6), (18.4, 8.6), (18.4, 12.6), (18.4, 16.4), (18.8, 5.4),
    (18.8, 7.0), (18.8, 14.2), (19.2, 9.6), (19.2, 11.4), (19.6, 22.3), (19.6, 6.2), (19.6, 17.8),
    (20.0, 8.0), (20.0, 13.2), (20.4, 10.4), (20.4, 15.0), (20.8, 6.6), (20.8, 12.0), (20.8, 17.8),
    (21.2, 8.8), (21.2, 14.0), (21.6, 22.0), (21.6, 7.2), (21.6, 11.0), (22.0, 16.2), (22.0, 9.6),
    (22.4, 12.8), (22.4, 6.4), (22.8, 14.8), (22.8, 10.4), (23.2, 8.2), (23.2, 18.4), (23.6, 12.0),
    (23.6, 16.6), (24.0, 9.0), (24.0, 14.0), (24.0, 19.4), (24.4, 6.8), (24.4, 11.2), (24.8, 15.4),
    (24.8, 12.8), (25.2, 9.8), (25.2, 17.0), (25.6, 21.4), (25.6, 7.0), (25.6, 13.6), (26.0, 11.0),
    (26.0, 15.8), (26.4, 8.4), (26.4, 18.6), (26.8, 12.4), (26.8, 14.6), (27.2, 10.0), (27.2, 17.6),
    (27.6, 7.4), (27.6, 13.2), (28.0, 15.6), (28.0, 11.6), (28.4, 19.4), (28.4, 8.6), (28.8, 14.0),
    (28.8, 16.8), (29.2, 10.6), (29.2, 12.8), (29.6, 18.2), (29.6, 7.8), (30.0, 14.8), (30.0, 21.6),
    (30.4, 11.4), (30.4, 16.0), (30.8, 9.0), (30.8, 13.2), (31.2, 17.4), (31.2, 19.8), (31.6, 12.0),
    (31.6, 15.0), (32.0, 8.8), (32.0, 10.6), (32.4, 16.4), (32.4, 13.8), (32.8, 18.8), (32.8, 11.8),
    (33.2, 14.6), (33.2, 9.6), (33.6, 17.0), (33.6, 20.4), (34.0, 12.6), (34.0, 15.6), (34.4, 18.4),
    (34.4, 10.4), (34.8, 14.0), (34.8, 21.2), (35.2, 16.6), (35.2, 12.0), (35.6, 19.4), (35.6, 14.8),
    (36.0, 22.4), (36.0, 17.2), (36.4, 13.4), (36.4, 15.8), (36.8, 18.6), (36.8, 20.6), (37.2, 16.0),
    (37.2, 12.8), (37.6, 19.8), (37.6, 17.4), (38.0, 15.2), (38.0, 21.8), (38.4, 18.2), (38.4, 13.6),
    (38.8, 16.6), (38.8, 20.0), (39.2, 17.8), (39.2, 22.6), (39.6, 15.4), (39.6, 19.2), (40.0, 17.0),
    (40.0, 21.0), (40.4, 14.4), (40.4, 18.6), (40.8, 16.2), (40.8, 23.4), (41.2, 19.8), (41.2, 15.2),
    (41.6, 17.6), (41.6, 21.4), (42.0, 16.6), (42.0, 18.8), (42.4, 20.4), (42.4, 23.8), (42.8, 17.2),
    (42.8, 15.6), (43.2, 19.2), (43.2, 22.2), (43.6, 16.4), (43.6, 24.0), (44.0, 18.4), (44.0, 20.8),
    (44.4, 15.8), (44.4, 22.6), (44.8, 19.6), (44.8, 17.4), (45.2, 24.6), (45.2, 21.4), (45.6, 18.6),
    (45.6, 15.0), (46.0, 22.8), (46.0, 20.2), (46.4, 17.0), (46.4, 25.0), (46.8, 19.0), (46.8, 21.8),
    (47.2, 23.6), (47.2, 16.2), (47.6, 20.6), (47.6, 18.0), (48.0, 22.4), (48.0, 25.2), (48.4, 19.6),
    (48.4, 17.2), (48.8, 23.8), (48.8, 21.2), (49.2, 26.8), (49.2, 18.8), (49.6, 22.0), (49.6, 24.6),
    (50.0, 20.4), (50.0, 29.8), (50.4, 26.0), (50.4, 17.6), (50.8, 23.2), (50.8, 28.0), (51.2, 21.0),
    (51.2, 25.4), (51.6, 30.4), (51.6, 19.2), (52.0, 27.2), (52.0, 23.8), (52.4, 22.0), (52.4, 31.6),
    (52.8, 25.8), (52.8, 20.4), (53.2, 28.8), (53.2, 24.2), (53.6, 33.0), (53.6, 22.6), (54.0, 26.6),
    (54.0, 30.0), (54.4, 24.8), (54.4, 21.2), (54.8, 34.2), (54.8, 28.4), (55.2, 26.0), (55.2, 23.4),
    (55.6, 31.2), (55.6, 35.2), (56.0, 27.4), (56.0, 24.6), (56.4, 33.6), (56.4, 29.6), (56.8, 26.2),
    (56.8, 35.8), (57.2, 31.0), (57.2, 28.0), (57.6, 24.2), (57.6, 34.4), (58.0, 35.6), (58.0, 29.2),
    (58.4, 26.6), (58.4, 32.2), (58.8, 30.6), (58.8, 25.2), (59.2, 28.4), (59.2, 33.0), (59.6, 31.6),
    (59.6, 26.0), (60.0, 29.6), (60.0, 27.2), (60.4, 31.0), (60.4, 28.6), (28.4, 7.4), (29.6, 8.0),
    (31.0, 8.6), (33.0, 9.0), (35.0, 9.3), (37.0, 9.4), (38.6, 9.4), (40.2, 9.4), (41.8, 9.4),
    (43.4, 9.4), (45.0, 9.5), (46.0, 9.6), (47.0, 9.4), (47.6, 8.8), (51.6, 8.8), (37.4, 25.2),
    (37.6, 26.2), (38.2, 26.8), (38.8, 26.6), (39.2, 26.0), (38.8, 25.0), (38.2, 24.6), (37.8, 24.0),
    (38.6, 23.6), (46.5, 37.7), (47.3, 38.8), (48.2, 40.1), (49.1, 40.8), (50.3, 41.4), (51.0, 41.6),
    (51.6, 41.2), (52.5, 40.8), (52.9, 39.8), (52.6, 38.4), (52.2, 37.2), (52.0, 36.0), (53.4, 37.1),
    (54.2, 38.6), (55.0, 40.1), (55.6, 41.2), (56.2, 42.1), (57.1, 42.8), (58.0, 44.1), (60.1, 44.8),
    (62.0, 45.4), (63.0, 46.1), (63.6, 46.2), (64.2, 46.1), (64.7, 45.8), (65.1, 45.4), (65.5, 44.6),
    (65.7, 44.1), (66.0, 43.1), (65.4, 41.8), (64.8, 40.8), (64.2, 39.8), (63.6, 38.5), (63.0, 37.5),
    (62.0, 36.1), (61.1, 34.8), (60.5, 33.5), (60.2, 32.5), (60.6, 31.2), (60.8, 30.0), (60.6, 28.8),
    (59.8, 27.6), (59.0, 26.8), (58.0, 26.0), (60.8, 26.0), (61.2, 25.0), (61.6, 24.2), (62.0, 23.4),
    (62.4, 22.4), (62.6, 21.4), (62.6, 20.2), (62.4, 19.2), (63.0, 24.4), (63.3, 22.9), (63.3, 21.9),
    (64.0, 23.2), (64.5, 24.2), (66.9, 21.9), (61.4, 22.0), (61.8, 20.6), (52.0, 17.0), (54.0, 18.4),
    (55.5, 19.6), (57.0, 21.0), (58.5, 22.5), (60.0, 23.6),
]
d_dense = [
    (10.2, 8.0), (11.0, 6.0), (11.8, 8.8), (12.6, 9.6), (13.4, 6.6), (14.2, 11.4), (15.0, 8.0),
    (15.8, 10.8), (16.6, 7.6), (17.4, 12.4), (18.2, 9.8), (19.0, 13.4), (19.8, 11.0), (20.6, 8.8),
    (21.4, 15.6), (22.2, 11.4), (23.0, 13.8), (23.8, 10.6), (24.6, 16.8), (25.4, 12.0), (26.2, 14.2),
    (27.0, 11.4), (27.8, 16.4), (28.6, 13.0), (29.4, 15.8), (30.2, 12.6), (31.0, 16.8), (31.8, 14.2),
    (32.6, 17.6), (33.4, 12.4), (34.2, 16.0), (35.0, 18.6), (35.8, 13.2), (36.6, 17.0), (37.4, 14.6),
    (38.2, 19.2), (39.0, 16.2), (39.8, 18.0), (40.6, 20.4), (41.4, 16.6), (42.2, 19.6), (43.0, 21.6),
    (43.8, 17.8), (44.6, 20.6), (45.4, 23.0), (46.2, 19.2), (47.0, 22.4), (47.8, 24.2), (48.6, 20.4),
    (49.4, 23.2), (50.2, 25.0), (51.0, 22.0), (51.8, 26.4), (52.6, 23.0), (53.4, 27.4), (54.2, 25.2),
    (55.0, 29.2), (55.8, 26.6), (56.6, 30.8), (57.4, 27.0), (58.2, 31.0), (59.0, 29.2), (59.8, 32.6),
    (46.6, 23.8), (47.4, 26.0), (48.2, 27.6), (49.0, 28.8), (50.6, 31.2), (51.4, 32.8), (52.2, 33.6),
    (53.0, 34.6), (53.8, 35.6), (54.6, 36.4), (55.4, 32.4), (56.2, 35.0), (57.0, 33.6), (58.6, 35.2),
    (45.0, 18.0), (46.0, 16.4), (47.6, 19.4), (49.8, 19.8), (51.4, 17.8), (53.6, 19.6), (55.8, 21.6),
    (57.8, 22.8), (59.4, 24.4), (61.0, 27.4), (61.6, 29.6), (40.2, 15.6), (40.9, 19.4), (41.5, 22.4),
    (42.1, 17.8), (42.7, 21.0), (43.3, 18.2), (43.9, 23.0), (44.5, 19.0), (45.1, 21.6), (45.7, 17.0),
    (46.3, 24.2), (46.9, 20.6), (47.5, 22.8), (48.1, 18.6), (48.7, 26.2), (49.3, 21.8), (49.9, 24.0),
    (50.5, 19.0), (51.1, 27.2), (51.7, 23.0), (52.3, 25.2), (52.9, 29.4), (53.5, 21.2), (54.1, 28.0),
    (54.7, 25.8), (55.3, 30.6), (55.9, 23.8), (56.5, 28.2), (57.1, 25.4), (57.7, 30.2), (58.3, 27.8),
    (58.9, 33.8), (59.5, 29.8), (60.1, 25.8), (60.7, 27.0), (61.2, 29.0), (56.3, 32.0), (55.1, 33.6),
    (54.3, 31.4), (53.3, 30.8), (52.5, 28.2), (51.3, 29.0), (50.1, 27.4), (49.5, 25.6), (48.5, 23.0),
    (47.7, 21.4), (57.3, 36.2), (58.3, 36.4), (58.7, 34.0), (59.7, 34.8), (60.5, 32.0), (59.9, 30.4),
    (45.9, 26.0), (44.1, 25.4), (42.9, 24.8), (41.1, 24.6), (39.9, 23.2), (38.9, 21.4), (37.3, 21.0),
    (36.1, 19.6), (35.3, 17.4), (34.5, 19.8), (33.5, 18.4), (32.5, 15.2), (31.5, 17.4), (30.5, 14.4),
    (29.5, 16.4), (28.5, 17.8), (27.3, 15.0), (26.5, 16.6), (25.5, 14.6), (24.5, 13.6), (23.5, 14.6),
    (22.5, 15.4), (21.5, 12.4), (20.5, 13.8), (19.5, 15.0), (18.5, 11.2), (17.5, 10.2), (16.5, 12.6),
    (15.5, 9.6), (14.5, 9.8), (13.5, 10.6), (12.5, 7.0), (11.5, 10.4), (10.5, 9.0), (9.5, 8.6),
    (8.5, 7.4), (7.5, 8.2), (6.5, 6.4), (5.5, 5.8), (4.5, 5.4), (3.5, 4.6), (2.5, 4.6), (1.5, 4.6),
    (1.0, 5.2), (2.2, 5.0),
]

titles = ['(a) - Car A Dry Conditions', '(b) - Car A Wet Conditions',
          '(c) - Car B Dry Conditions', '(d) - Car B Wet Conditions']
fit_slopes = [0.2194, 0.2302, 0.2768, 0.4148]
fit_intercepts = [1.451, 1.6776, 1.7826, 2.3168]
fit_r2 = [0.7314, 0.8821, 0.8385, 0.8218]
fit_ends = [80, 70, 80, 66]
min_slopes = [0.10312, 0.14733, 0.17715, 0.19496]
min_intercept = 0.5
x_ticks = [0, 20, 40, 60, 80]
y_ticks = [0, 10, 20, 30, 40, 50]
all_points = [a_points + a_dense, b_points + b_dense, c_points + c_dense, d_points + d_dense]

# pixel layout of every panel: axes box, outer frame, text anchors, label boxes
layout = [
    dict(ax=(102.5, 63.3, 546.8, 306), frame=(10, 9, 573, 378), title=(289, 31),
         xlab=(325, 359), ylab=(30, 185), eq=(107, 68.7, 260.6, 126.7), eqy=(83.3, 106.7),
         mn=(106, 140, 284, 166.7)),
    dict(ax=(98.4, 441.3, 546.8, 686), frame=(10, 390, 573, 770), title=(289, 412.5),
         xlab=(322, 742), ylab=(27, 564), eq=(102.8, 448.7, 265, 507.3), eqy=(465, 486.7),
         mn=(102.8, 517.3, 291.5, 549.3)),
    dict(ax=(678, 63.3, 1110.5, 306), frame=(586, 9, 1150, 378), title=(865, 31),
         xlab=(894, 359), ylab=(607, 185), eq=(682.7, 71.3, 844.5, 129.3), eqy=(86.7, 109.3),
         mn=(681, 146, 858, 173.3)),
    dict(ax=(684, 445.3, 1117.3, 696.7), frame=(585, 390, 1150, 770), title=(865, 412.5),
         xlab=(900, 743), ylab=(612, 572), eq=(688.7, 450.7, 850.2, 508.3), eqy=(466, 488.3),
         mn=(688.7, 521, 882.3, 549.3)),
]

fig = plt.figure(figsize=(W / 100, H / 100), dpi=100)


def fx(px):
    return px / W


def fy(py):
    return 1 - py / H


def box(x0, y0, x1, y1, lw=1.0):
    fig.add_artist(Rectangle((fx(x0), fy(y1)), fx(x1) - fx(x0), fy(y0) - fy(y1),
                             transform=fig.transFigure, facecolor='white',
                             edgecolor='black', lw=lw, zorder=5))


for i in range(4):
    L = layout[i]
    # outer chart frame
    x0, y0, x1, y1 = L['frame']
    fig.add_artist(Rectangle((fx(x0), fy(y1)), fx(x1) - fx(x0), fy(y0) - fy(y1),
                             transform=fig.transFigure, facecolor='none',
                             edgecolor='black', lw=1.0, zorder=0))

    l, t, r, b = L['ax']
    ax = fig.add_axes([fx(l), fy(b), fx(r) - fx(l), fy(t) - fy(b)])
    ax.set_xlim(0, 80)
    ax.set_ylim(0, 50)
    ax.set_xticks(x_ticks)
    ax.set_yticks(y_ticks)
    ax.xaxis.set_major_formatter(FormatStrFormatter('%.2f'))
    ax.yaxis.set_major_formatter(FormatStrFormatter('%.2f'))
    ax.tick_params(direction='out', length=4, width=1, labelsize=11.5, pad=5)
    ax.grid(True, color='#9a9a9a', lw=0.8, linestyle=(0, (5, 4)))
    ax.set_axisbelow(True)
    for s in ['top', 'right']:
        ax.spines[s].set_color('#a0a0a0')
        ax.spines[s].set_linewidth(1.0)
    for s in ['left', 'bottom']:
        ax.spines[s].set_color('black')
        ax.spines[s].set_linewidth(1.2)

    xs = [p[0] for p in all_points[i]]
    ys = [p[1] for p in all_points[i]]
    ax.scatter(xs, ys, marker='D', s=14, color='#000080', linewidths=0, zorder=3)

    # linear trend and minimum spacing lines
    xe = fit_ends[i]
    ax.plot([0, xe], [fit_intercepts[i], fit_slopes[i] * xe + fit_intercepts[i]],
            color='black', lw=2.4, dashes=(4.5, 2.2), zorder=4)
    ax.plot([0, 80], [min_intercept, min_slopes[i] * 80 + min_intercept],
            color='red', lw=1.6, zorder=4)

    fig.text(fx(L['title'][0]), fy(L['title'][1]), titles[i], ha='center', va='center',
             fontsize=12, fontweight='bold')
    fig.text(fx(L['xlab'][0]), fy(L['xlab'][1]), 'Speed (km/h)', ha='center', va='center',
             fontsize=12, fontweight='bold')
    fig.text(fx(L['ylab'][0]), fy(L['ylab'][1]), 'Spacing (m)', ha='center', va='center',
             fontsize=12, fontweight='bold', rotation=90)

    ex0, ey0, ex1, ey1 = L['eq']
    box(ex0, ey0, ex1, ey1)
    fig.text(fx((ex0 + ex1) / 2), fy(L['eqy'][0]),
             'y = ' + str(fit_slopes[i]) + 'x + ' + str(fit_intercepts[i]),
             ha='center', va='center', fontsize=11.5, zorder=6)
    fig.text(fx((ex0 + ex1) / 2), fy(L['eqy'][1]), 'R² = ' + str(fit_r2[i]),
             ha='center', va='center', fontsize=11.5, zorder=6)

    mx0, my0, mx1, my1 = L['mn']
    box(mx0, my0, mx1, my1)
    fig.text(fx(mx0 + 4), fy((my0 + my1) / 2),
             'Min: y = ' + str(min_slopes[i]) + 'x + ' + str(min_intercept),
             ha='left', va='center', fontsize=11.5, zorder=6)

fig.savefig('out.png', dpi=100)
